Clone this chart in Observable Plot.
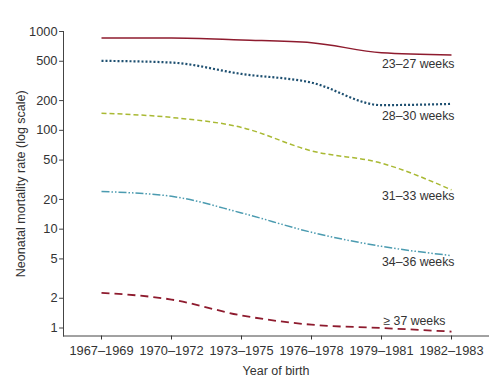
<!DOCTYPE html>
<html>
<head>
<meta charset="utf-8">
<script src="https://cdn.jsdelivr.net/npm/d3@7"></script>
<script src="https://cdn.jsdelivr.net/npm/@observablehq/plot@0.6"></script>
<style>
  html, body { margin: 0; padding: 0; background: #ffffff; }
  #chart svg { display: block; }
</style>
</head>
<body>
<div id="chart"></div>
<script>
const periods = ["1967–1969", "1970–1972", "1973–1975", "1976–1978", "1979–1981", "1982–1983"];
const groups = ["23–27 weeks", "28–30 weeks", "31–33 weeks", "34–36 weeks", "≥ 37 weeks"];
const rate_23_27 = [860, 860, 820, 770, 610, 580];
const rate_28_30 = [505, 485, 372, 304, 180, 185];
const rate_31_33 = [149, 135, 107, 62, 46.5, 25];
const rate_34_36 = [24, 21.5, 14.6, 9.3, 6.7, 5.4];
const rate_37plus = [2.27, 1.94, 1.34, 1.08, 1.0, 0.92];
const yTicks = [1, 2, 5, 10, 20, 50, 100, 200, 500, 1000];

const seriesValues = [rate_23_27, rate_28_30, rate_31_33, rate_34_36, rate_37plus];
const data = [];
groups.forEach((g, gi) => periods.forEach((p, pi) => data.push({group: g, period: p, rate: seriesValues[gi][pi]})));
const last = groups.map((g, gi) => ({group: g, period: periods[periods.length - 1], rate: seriesValues[gi][periods.length - 1]}));

const styles = {
  "23–27 weeks": {stroke: "#8e1b2e", dash: null, width: 1.5, dx: 3, dy: 9},
  "28–30 weeks": {stroke: "#1d4f70", dash: "2,2", width: 2.2, dx: 3, dy: 12},
  "31–33 weeks": {stroke: "#a9b933", dash: "5,3", width: 1.5, dx: 3, dy: 6},
  "34–36 weeks": {stroke: "#4b9bb0", dash: "8,2,1.5,2,1.5,2", width: 1.5, dx: 3, dy: 6},
  "≥ 37 weeks": {stroke: "#8e1b2e", dash: "8,5", width: 1.8, dx: -6, dy: -11}
};

const font = "Liberation Sans, Arial, Helvetica, sans-serif";
const ink = "#333";
const marks = [];
for (const g of groups) {
  const s = styles[g];
  marks.push(Plot.line(data.filter(d => d.group === g), {
    x: "period", y: "rate", stroke: s.stroke, strokeWidth: s.width,
    strokeDasharray: s.dash, strokeLinecap: "butt", curve: "monotone-x"
  }));
  marks.push(Plot.text(last.filter(d => d.group === g), {
    x: "period", y: "rate", text: "group", textAnchor: "end",
    dx: s.dx, dy: s.dy, fill: ink, fontSize: 12.3
  }));
}

const tickShape = {draw(context, l) { context.moveTo(0, 0); context.lineTo(0, -l); }};

const chart = Plot.plot({
  width: 500,
  height: 380,
  marginLeft: 63,
  marginRight: 12,
  marginTop: 31,
  marginBottom: 44.5,
  style: {fontFamily: font, fontSize: "12.8px", color: ink, background: "#ffffff"},
  x: {type: "point", domain: periods, padding: 0.5},
  y: {type: "log", domain: [0.83, 1000], axis: null},
  marks: [
    Plot.frame({anchor: "left", stroke: "#444"}),
    Plot.frame({anchor: "bottom", stroke: "#444"}),
    Plot.vector(yTicks, {y: d => d, frameAnchor: "left", length: 4, rotate: -90, anchor: "start", shape: tickShape, stroke: "#444", strokeWidth: 1}),
    Plot.text(yTicks, {y: d => d, text: d => String(d), frameAnchor: "left", textAnchor: "end", dx: -6, fill: ink, fontSize: 12.8}),
    Plot.axisX({tickSize: 4, tickPadding: 6, label: null, fontSize: 12.8}),
    Plot.text(["Neonatal mortality rate (log scale)"], {frameAnchor: "left", textAnchor: "middle", rotate: -90, dx: -43, fill: ink, fontSize: 12.5}),
    Plot.text(["Year of birth"], {frameAnchor: "bottom", dy: 39, fill: ink, fontSize: 12.5}),
    ...marks
  ]
});
document.getElementById("chart").appendChild(chart);
</script>
</body>
</html>
